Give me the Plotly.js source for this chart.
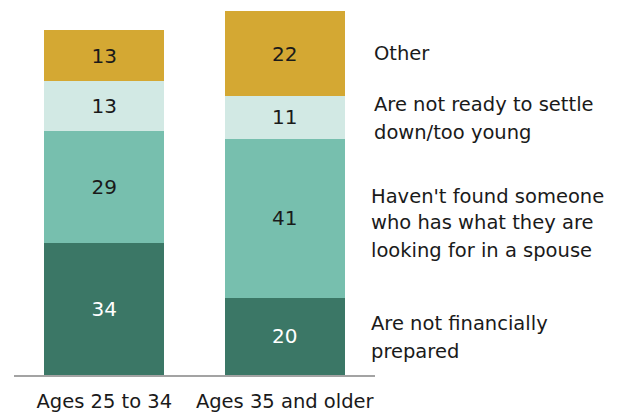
<!DOCTYPE html>
<html>
<head>
<meta charset="utf-8">
<script src="https://cdn.plot.ly/plotly-3.0.1.min.js"></script>
<style>html,body{margin:0;padding:0;background:#fff;}#chart{width:619px;height:415px;}</style>
</head>
<body>
<div id="chart"></div>
<script>
const categories = ["Ages 25 to 34", "Ages 35 and older"];
const seriesNames = ["Are not financially prepared", "Haven't found someone who has what they are looking for in a spouse", "Are not ready to settle down/too young", "Other"];
const financial = [34, 20];
const notFound = [29, 41];
const notReady = [13, 11];
const other = [13, 22];
const labelLines = [
  ["Other"],
  ["Are not ready to settle", "down/too young"],
  ["Haven't found someone", "who has what they are", "looking for in a spouse"],
  ["Are not financially", "prepared"]
];

const colors = ["#3b7766", "#77bfae", "#d2e9e4", "#d4a833"];
const textColors = ["#ffffff", "#1a1a1a", "#1a1a1a", "#1a1a1a"];
const values = [financial, notFound, notReady, other];
const FONT = "DejaVu Sans, sans-serif";

const traces = values.map((v, i) => ({
  type: "bar",
  x: categories,
  y: v,
  name: seriesNames[i],
  marker: {color: colors[i], line: {width: 0}},
  text: v.map(String),
  textposition: "inside",
  insidetextanchor: "middle",
  textangle: 0,
  textfont: {family: FONT, size: 20, color: textColors[i]},
  hoverinfo: "skip"
}));

// right-side label positions (pixel y of each line centre, left x)
const linePix = [[53], [105, 132], [196, 223, 250], [323, 351]];
const leftPix = [373, 373, 370, 370];
const plotL = 14, plotR = 375, plotT = 11, plotB = 375;
const annotations = [];
labelLines.forEach((lines, i) => {
  lines.forEach((t, j) => {
    annotations.push({
      text: t, xref: "paper", yref: "paper",
      x: (leftPix[i] - plotL) / (plotR - plotL),
      y: (plotB - linePix[i][j]) / (plotB - plotT),
      xanchor: "left", yanchor: "middle", showarrow: false,
      borderpad: 0,
      font: {family: FONT, size: 19.5, color: "#1a1a1a"}
    });
  });
});

const layout = {
  width: 619, height: 415,
  margin: {l: plotL, r: 619 - plotR, t: plotT, b: 415 - plotB},
  barmode: "stack",
  bargap: 0.335,
  showlegend: false,
  paper_bgcolor: "#ffffff",
  plot_bgcolor: "#ffffff",
  xaxis: {
    showline: true, linecolor: "#a3a3a3", linewidth: 2,
    ticks: "", showgrid: false, zeroline: false,
    tickfont: {family: FONT, size: 19.5, color: "#1a1a1a"},
    ticklabelstandoff: 8,
    fixedrange: true
  },
  yaxis: {
    range: [0, 94], visible: false, showgrid: false, zeroline: false, fixedrange: true
  },
  annotations: annotations,
  uniformtext: {mode: false}
};

Plotly.newPlot("chart", traces, layout, {displayModeBar: false, staticPlot: true});
</script>
</body>
</html>
